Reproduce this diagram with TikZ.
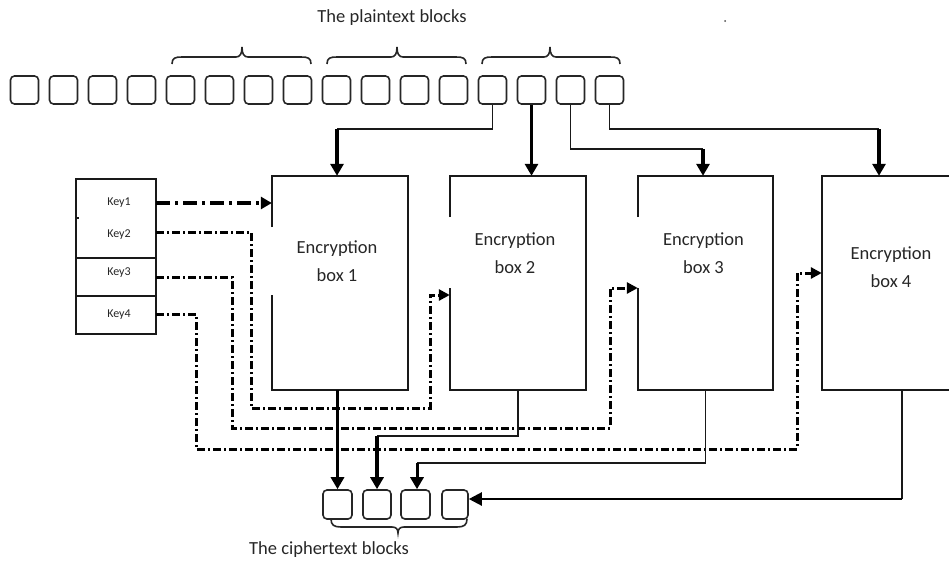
\documentclass[tikz,border=0pt]{standalone}
\usepackage{fontspec}
\setmainfont{Carlito}
\usetikzlibrary{arrows.meta}
\begin{document}
\begin{tikzpicture}[x=1pt,y=-1pt,
  blk/.style={draw=black!85, line width=1.6pt, rounded corners=4pt, minimum width=28pt, minimum height=28pt, inner sep=0pt},
  boxn/.style={draw=none, inner sep=0pt, minimum width=136pt, minimum height=214pt},
  boxline/.style={draw=black!90, line width=1.7pt},
  lbl/.style={align=center, text=black!85, font=\fontsize{18.5}{28}\selectfont, inner sep=0pt},
  keyl/.style={text=black!85, font=\fontsize{12}{13}\selectfont, inner sep=0pt},
  thinline/.style={draw=black!90, line width=1.6pt},
  thickarrow/.style={draw=black, line width=3.6pt, -{Triangle[length=12pt,width=13pt]}},
  keythick/.style={draw=black, line width=4.2pt, dash pattern=on 14pt off 5pt on 3pt off 5pt, -{Triangle[length=11pt,width=12pt]}},
  keydash/.style={draw=black, line width=3pt, dash pattern=on 8pt off 3pt on 2pt off 3pt, -{Triangle[length=11pt,width=11pt]}},
  bracel/.style={draw=black!85, line width=1.6pt}
]
\useasboundingbox (0,0) rectangle (949,565);

% title
\node[lbl] (ptitle) at (392,18) {The plaintext blocks};
\fill[black!70] (725,21) circle (1pt);

% plaintext blocks
\foreach \i in {0,...,15}{
  \node[blk] (p\i) at ({24.5+39*\i},90) {};
}

% braces above plaintext groups
\foreach \a/\m/\b in {172/242/311, 327/397/466, 482/550/620}{
  \draw[bracel] (\a,64) .. controls (\a,58) and ({\a+3},57) .. ({\a+10},57)
    -- ({\m-6},57) .. controls ({\m-2},57) and (\m,54) .. (\m,47)
    .. controls (\m,54) and ({\m+2},57) .. ({\m+6},57)
    -- ({\b-10},57) .. controls ({\b-3},57) and (\b,58) .. (\b,64);
}

% encryption boxes (nodes)
\node[boxn] (e1) at (340,283) {};
\node[boxn] (e2) at (518,283) {};
\node[boxn, minimum width=135pt] (e3) at (705.5,283) {};
\node[boxn, minimum width=127pt] (e4) at (885.5,283) {};

% outlines with gaps on the left side
\draw[boxline] (272,227) -- (272,176) -- (408,176) -- (408,390) -- (272,390) -- (272,295);
\draw[boxline] (450,217) -- (450,176) -- (586,176) -- (586,390) -- (450,390) -- (450,288);
\draw[boxline] (638,217) -- (638,176) -- (773,176) -- (773,390) -- (638,390) -- (638,288);
\draw[boxline] (952,176) -- (822,176) -- (822,390) -- (952,390);

\node[lbl] (t1) at (337,261) {Encryption\\box 1};
\node[lbl] (t2) at (515,253.5) {Encryption\\box 2};
\node[lbl] (t3) at (703.5,253.5) {Encryption\\box 3};
\node[lbl] (t4) at (891,267) {Encryption\\box 4};

% key box
\node[draw=none, inner sep=0pt, minimum width=80pt, minimum height=155pt] (kb) at (116,256.5) {};
\draw[boxline, line width=1.5pt] (76,179) rectangle (156,334);
\draw[boxline, line width=1.5pt] (76,258) -- (156,258);
\draw[boxline, line width=1.5pt] (76,296) -- (156,296);
\draw[boxline, line width=1.2pt] (76,218) -- (79,218);
\node[keyl] (key1) at (119,203) {Key1};
\node[keyl] (key2) at (119,235) {Key2};
\node[keyl] (key3) at (119,273) {Key3};
\node[keyl] (key4) at (119,315) {Key4};

\coordinate (k1) at (156,203);
\coordinate (k2) at (156,232);
\coordinate (k3) at (156,277);
\coordinate (k4) at (156,314);
\coordinate (j2) at (430,295);
\coordinate (j3) at (610,288);
\coordinate (j4) at (797,273);

% key connectors
\draw[keythick] (k1) -- (k1 -| e1.west);
\draw[keydash] (k2) -| (251,408) -| (j2) -- (j2 -| e2.west);
\draw[keydash] (k3) -| (232,428) -| (j3) -- (j3 -| e3.west);
\draw[keydash] (k4) -| (196,449) -| (j4) -- (j4 -| e4.west);

% plaintext to boxes
\coordinate (a1) at (337,129);
\coordinate (a3) at (703,149);
\coordinate (a4) at (879,129);
\draw[thinline] (p12.south) |- (a1);
\draw[thickarrow] (a1) -- (a1 |- e1.north);
\draw[thickarrow] (p13.south) -- (p13.south |- e2.north);
\draw[thinline] (p14.south) |- (a3);
\draw[thickarrow] (a3) -- (a3 |- e3.north);
\draw[thinline] (p15.south) |- (a4);
\draw[thickarrow] (a4) -- (a4 |- e4.north);

% ciphertext blocks
\node[blk, minimum width=29pt, minimum height=29pt] (c0) at (337.5,504.5) {};
\node[blk, minimum width=28pt, minimum height=29pt] (c1) at (377,504.5) {};
\node[blk, minimum width=29pt, minimum height=29pt] (c2) at (415.5,504.5) {};
\node[blk, minimum width=26pt, minimum height=29pt] (c3) at (455,504.5) {};

\draw[bracel] (331,519) .. controls (331,525) and (334,527) .. (341,527)
  -- (392,527) .. controls (396,527) and (398,529) .. (398,533)
  .. controls (398,529) and (400,527) .. (404,527)
  -- (457,527) .. controls (464,527) and (467,525) .. (467,519);

\node[lbl] (ctitle) at (329,550) {The ciphertext blocks};

% boxes to ciphertext
\coordinate (b2) at (377,436);
\coordinate (b3) at (417,463);
\coordinate (d4) at (902,390);
\coordinate (b4) at (902,499);
\draw[thickarrow] (c0 |- e1.south) -- (c0.north);
\draw[thinline] (e2.south) |- (b2);
\draw[thickarrow] (b2) -- (b2 |- c1.north);
\draw[thinline] (e3.south) |- (b3);
\draw[thickarrow, line width=3pt] (b3) -- (b3 |- c2.north);
\draw[thinline] (d4) -- (b4);
\draw[draw=black, line width=2.3pt, -{Triangle[length=13pt,width=13pt]}] (b4) -- (b4 -| c3.east);
\end{tikzpicture}
\end{document}
